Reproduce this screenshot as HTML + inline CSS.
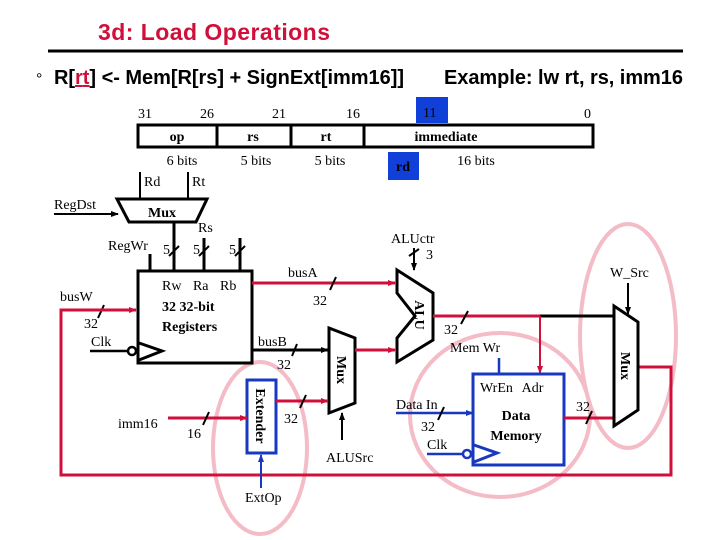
<!DOCTYPE html>
<html><head><meta charset="utf-8"><style>
html,body{margin:0;padding:0;background:#fff;}
svg{display:block}
.t{font-family:"Liberation Serif",serif;font-size:14px;fill:#000}
.b{font-weight:bold}
</style></head><body>
<svg width="720" height="540" viewBox="0 0 720 540" xmlns="http://www.w3.org/2000/svg">
<defs>
<marker id="ar" markerWidth="8" markerHeight="8" refX="7" refY="4" orient="auto" markerUnits="userSpaceOnUse"><path d="M0,1 L8,4 L0,7 Z" fill="#d0103a"/></marker>
<marker id="ak" markerWidth="8" markerHeight="8" refX="7" refY="4" orient="auto" markerUnits="userSpaceOnUse"><path d="M0,1 L8,4 L0,7 Z" fill="#000"/></marker>
<marker id="ab" markerWidth="8" markerHeight="8" refX="7" refY="4" orient="auto" markerUnits="userSpaceOnUse"><path d="M0,1 L8,4 L0,7 Z" fill="#1838c0"/></marker>
</defs>
<text x="98" y="40" font-family="Liberation Sans,sans-serif" font-size="23" font-weight="bold" fill="#d0103a" textLength="232">3d: Load Operations</text>
<line x1="48" y1="51" x2="683" y2="51" stroke="#000" stroke-width="3"/>
<text x="36" y="84" font-family="Liberation Sans,sans-serif" font-size="16">°</text>
<text x="54" y="84" font-family="Liberation Sans,sans-serif" font-size="20" font-weight="bold" textLength="350">R[<tspan fill="#d0103a" text-decoration="underline">rt</tspan>] &lt;- Mem[R[rs] + SignExt[imm16]]</text>
<text x="444" y="84" font-family="Liberation Sans,sans-serif" font-size="20" font-weight="bold" textLength="239">Example: lw rt, rs, imm16</text>

<!-- instruction format -->
<rect x="416" y="97" width="32" height="26" fill="#1040d8"/>
<text class="t" x="423" y="117" fill="#000">11</text>
<text class="t" x="138" y="118">31</text><text class="t" x="200" y="118">26</text>
<text class="t" x="272" y="118">21</text><text class="t" x="346" y="118">16</text>
<text class="t" x="584" y="118">0</text>
<rect x="138" y="125" width="455" height="22" fill="none" stroke="#000" stroke-width="3"/>
<line x1="217" y1="125" x2="217" y2="147" stroke="#000" stroke-width="3"/>
<line x1="291" y1="125" x2="291" y2="147" stroke="#000" stroke-width="3"/>
<line x1="364" y1="125" x2="364" y2="147" stroke="#000" stroke-width="3"/>
<text class="t b" x="177" y="141" text-anchor="middle">op</text>
<text class="t b" x="253" y="141" text-anchor="middle">rs</text>
<text class="t b" x="326" y="141" text-anchor="middle">rt</text>
<text class="t b" x="446" y="141" text-anchor="middle">immediate</text>
<text class="t" x="182" y="165" text-anchor="middle">6 bits</text>
<text class="t" x="256" y="165" text-anchor="middle">5 bits</text>
<text class="t" x="330" y="165" text-anchor="middle">5 bits</text>
<text class="t" x="476" y="165" text-anchor="middle">16 bits</text>
<rect x="388" y="152" width="31" height="28" fill="#1040d8"/>
<text class="t b" x="403" y="171" text-anchor="middle">rd</text>

<!-- ellipses -->
<g fill="none" stroke="#f3bcc6" stroke-width="4">
<ellipse cx="260" cy="448" rx="47" ry="86"/>
<ellipse cx="500" cy="415" rx="90" ry="82"/>
<ellipse cx="628" cy="336" rx="48" ry="112"/>
</g>

<!-- RegDst mux -->
<line x1="140" y1="172" x2="140" y2="198" stroke="#000" stroke-width="2"/>
<line x1="188" y1="172" x2="188" y2="198" stroke="#000" stroke-width="2"/>
<text class="t" x="144" y="186">Rd</text><text class="t" x="192" y="186">Rt</text>
<text class="t" x="54" y="209">RegDst</text>
<line x1="54" y1="214" x2="118" y2="214" stroke="#000" stroke-width="2" marker-end="url(#ak)"/>
<path d="M117,199 L207,199 L196,222 L129,222 Z" fill="#fff" stroke="#000" stroke-width="3"/>
<text class="t b" x="162" y="217" text-anchor="middle">Mux</text>
<line x1="174" y1="222" x2="174" y2="271" stroke="#000" stroke-width="3"/>
<line x1="204" y1="238" x2="204" y2="271" stroke="#000" stroke-width="3"/>
<line x1="240" y1="238" x2="240" y2="271" stroke="#000" stroke-width="3"/>
<line x1="150" y1="254" x2="150" y2="271" stroke="#000" stroke-width="3"/>
<g stroke="#000" stroke-width="2"><line x1="169" y1="256" x2="179" y2="246"/><line x1="199" y1="256" x2="209" y2="246"/><line x1="235" y1="256" x2="245" y2="246"/></g>
<text class="t" x="198" y="232">Rs</text>
<text class="t" x="108" y="250">RegWr</text>
<text class="t" x="163" y="254">5</text><text class="t" x="193" y="254">5</text><text class="t" x="229" y="254">5</text>

<!-- registers -->
<rect x="138" y="271" width="114" height="92" fill="#fff" stroke="#000" stroke-width="3"/>
<text class="t" x="162" y="290" word-spacing="8">Rw Ra Rb</text>
<text class="t b" x="162" y="311">32 32-bit</text>
<text class="t b" x="162" y="331">Registers</text>
<path d="M139,343 L162,351 L139,360" fill="none" stroke="#000" stroke-width="3"/>
<circle cx="132" cy="351" r="4" fill="#fff" stroke="#000" stroke-width="2.5"/>
<line x1="90" y1="351" x2="128" y2="351" stroke="#000" stroke-width="2.5"/>
<text class="t" x="91" y="346">Clk</text>
<text class="t" x="60" y="301">busW</text>
<text class="t" x="84" y="328">32</text>
<line x1="104" y1="305" x2="98" y2="318" stroke="#000" stroke-width="2"/>

<!-- busW loop -->
<path d="M638,367 L671,367 L671,475 L61,475 L61,310 L136,310" fill="none" stroke="#d0103a" stroke-width="3" marker-end="url(#ar)"/>

<!-- busA -->
<line x1="252" y1="283" x2="395" y2="283" stroke="#d0103a" stroke-width="3" marker-end="url(#ar)"/>
<text class="t" x="288" y="277">busA</text>
<line x1="336" y1="277" x2="330" y2="290" stroke="#000" stroke-width="2"/>
<text class="t" x="313" y="305">32</text>
<!-- busB -->
<line x1="252" y1="350" x2="328" y2="350" stroke="#000" stroke-width="3" marker-end="url(#ak)"/>
<text class="t" x="258" y="346">busB</text>
<line x1="297" y1="344" x2="292" y2="356" stroke="#000" stroke-width="2"/>
<text class="t" x="277" y="369">32</text>

<!-- ALUSrc mux -->
<path d="M329,328 L355,338 L355,403 L329,413 Z" fill="#fff" stroke="#000" stroke-width="3"/>
<text class="t b" x="342" y="370" text-anchor="middle" transform="rotate(90 342 370)" dy="5">Mux</text>
<line x1="342" y1="440" x2="342" y2="413" stroke="#000" stroke-width="2" marker-end="url(#ak)"/>
<text class="t" x="326" y="462">ALUSrc</text>
<line x1="355" y1="350" x2="395" y2="350" stroke="#d0103a" stroke-width="3" marker-end="url(#ar)"/>

<!-- extender -->
<rect x="247" y="380" width="29" height="73" fill="#fff" stroke="#1838c0" stroke-width="3"/>
<text class="t b" x="261" y="416" text-anchor="middle" transform="rotate(90 261 416)" dy="5">Extender</text>
<line x1="261" y1="488" x2="261" y2="455" stroke="#1838c0" stroke-width="2" marker-end="url(#ab)"/>
<text class="t" x="245" y="502" fill="#1838c0">ExtOp</text>
<line x1="276" y1="401" x2="328" y2="401" stroke="#d0103a" stroke-width="3" marker-end="url(#ar)"/>
<line x1="306" y1="395" x2="300" y2="408" stroke="#000" stroke-width="2"/>
<text class="t" x="284" y="423">32</text>
<line x1="168" y1="418" x2="247" y2="418" stroke="#d0103a" stroke-width="3" marker-end="url(#ar)"/>
<line x1="209" y1="412" x2="203" y2="425" stroke="#000" stroke-width="2"/>
<text class="t" x="118" y="428">imm16</text>
<text class="t" x="187" y="438">16</text>

<!-- ALU -->
<path d="M397,270 L433,293 L433,340 L397,362 L397,338 L415,316 L397,293 Z" fill="#fff" stroke="#000" stroke-width="3"/>
<text class="t b" x="420" y="315" text-anchor="middle" transform="rotate(90 420 315)" dy="5">ALU</text>
<line x1="414" y1="248" x2="414" y2="270" stroke="#000" stroke-width="2" marker-end="url(#ak)"/>
<line x1="409" y1="256" x2="419" y2="249" stroke="#000" stroke-width="2"/>
<text class="t" x="391" y="243">ALUctr</text>
<text class="t" x="426" y="259">3</text>
<line x1="433" y1="316" x2="540" y2="316" stroke="#d0103a" stroke-width="3"/>
<line x1="540" y1="316" x2="613" y2="316" stroke="#000" stroke-width="3"/>
<line x1="540" y1="316" x2="540" y2="373" stroke="#d0103a" stroke-width="2" marker-end="url(#ar)"/>
<line x1="468" y1="311" x2="461" y2="324" stroke="#000" stroke-width="2"/>
<text class="t" x="444" y="334">32</text>
<text class="t" x="450" y="352">Mem Wr</text>
<line x1="499" y1="358" x2="499" y2="374" stroke="#1838c0" stroke-width="2.5"/>

<!-- data memory -->
<rect x="473" y="374" width="91" height="91" fill="#fff" stroke="#1838c0" stroke-width="3"/>
<text class="t" x="480" y="392" word-spacing="6">WrEn Adr</text>
<text class="t b" x="516" y="420" text-anchor="middle">Data</text>
<text class="t b" x="516" y="440" text-anchor="middle">Memory</text>
<path d="M474,445 L497,453 L474,462" fill="none" stroke="#1838c0" stroke-width="3"/>
<circle cx="467" cy="454" r="4" fill="#fff" stroke="#1838c0" stroke-width="2.5"/>
<line x1="427" y1="454" x2="463" y2="454" stroke="#1838c0" stroke-width="2.5"/>
<text class="t" x="427" y="449">Clk</text>
<line x1="396" y1="413" x2="473" y2="413" stroke="#1838c0" stroke-width="2.5" marker-end="url(#ab)"/>
<text class="t" x="396" y="409">Data In</text>
<line x1="444" y1="407" x2="438" y2="420" stroke="#000" stroke-width="2"/>
<text class="t" x="421" y="431">32</text>
<line x1="564" y1="418" x2="613" y2="418" stroke="#d0103a" stroke-width="3"/>
<line x1="592" y1="411" x2="586" y2="424" stroke="#000" stroke-width="2"/>
<text class="t" x="576" y="411">32</text>

<!-- W mux -->
<path d="M614,306 L638,322 L638,410 L614,426 Z" fill="#fff" stroke="#000" stroke-width="3"/>
<text class="t b" x="626" y="366" text-anchor="middle" transform="rotate(90 626 366)" dy="5">Mux</text>
<line x1="628" y1="283" x2="628" y2="314" stroke="#000" stroke-width="2" marker-end="url(#ak)"/>
<text class="t" x="610" y="277">W_Src</text>
</svg>
</body></html>
